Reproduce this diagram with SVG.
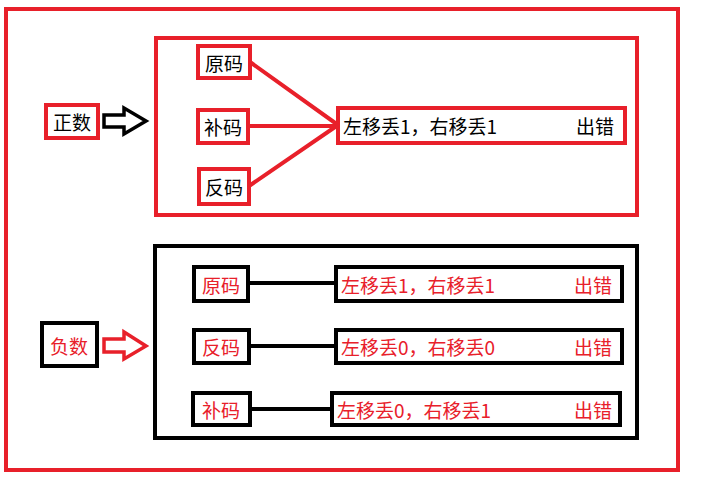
<svg xmlns="http://www.w3.org/2000/svg" width="701" height="487" viewBox="0 0 701 487">
<style>
text{font-family:"Noto Sans CJK SC","Liberation Sans",sans-serif;font-size:19px;dominant-baseline:central}
.r{fill:#fff;stroke:#e8202a;stroke-width:4}
.k{fill:#fff;stroke:#000;stroke-width:4}
.tr{fill:#e8202a}
.tk{fill:#000}
</style>
<rect width="701" height="487" fill="#fff"/>
<rect x="6" y="9" width="672" height="461" fill="none" stroke="#e8202a" stroke-width="4"/>
<g id="pos-container"><rect x="156" y="38" width="481" height="177" fill="none" stroke="#e8202a" stroke-width="4"/></g>
<g id="neg-container"><rect x="155" y="246" width="482" height="192" fill="none" stroke="#000" stroke-width="4"/></g>
<g id="connectors">
<path d="M250 62L338 125M248 126H338M249 186L338 125" stroke="#e8202a" stroke-width="4" fill="none"/>
<path d="M248 283H336M249 346H336M250 409H331" stroke="#000" stroke-width="4" fill="none"/>
<path d="M104 115H124V108L146 121L124 134V127H104Z" fill="#fff" stroke="#000" stroke-width="3.5"/>
<path d="M104 339H124V332L146 346L124 359V352H104Z" fill="#fff" stroke="#e8202a" stroke-width="3.5"/>
</g>
<g id="zhengshu"><rect class="r" x="46" y="105" width="52" height="33"/><text class="tk" x="72" y="121" text-anchor="middle">正数</text></g>
<g id="fushu"><rect class="k" x="42" y="323" width="55" height="43"/><text class="tr" x="69" y="345" text-anchor="middle">负数</text></g>
<g id="p-yuan"><rect class="r" x="198" y="46" width="52" height="32"/><text class="tk" x="224" y="62" text-anchor="middle">原码</text></g>
<g id="p-bu"><rect class="r" x="198" y="110" width="50" height="33"/><text class="tk" x="223" y="126" text-anchor="middle">补码</text></g>
<g id="p-fan"><rect class="r" x="199" y="169" width="50" height="35"/><text class="tk" x="224" y="186" text-anchor="middle">反码</text></g>
<g id="p-res"><rect class="r" x="338" y="108" width="287" height="35"/><text class="tk" x="343" y="125">左移丢1，右移丢1</text><text class="tk" x="576" y="125">出错</text></g>
<g id="n-yuan"><rect class="k" x="194" y="267" width="54" height="34"/><text class="tr" x="221" y="284" text-anchor="middle">原码</text></g>
<g id="n-fan"><rect class="k" x="194" y="330" width="55" height="33"/><text class="tr" x="221" y="346" text-anchor="middle">反码</text></g>
<g id="n-bu"><rect class="k" x="193" y="393" width="57" height="32"/><text class="tr" x="221" y="409" text-anchor="middle">补码</text></g>
<g id="n-res1"><rect class="k" x="336" y="267" width="286" height="34"/><text class="tr" x="341" y="284">左移丢1，右移丢1</text><text class="tr" x="574" y="284">出错</text></g>
<g id="n-res2"><rect class="k" x="336" y="330" width="286" height="33"/><text class="tr" x="341" y="346">左移丢0，右移丢0</text><text class="tr" x="574" y="346">出错</text></g>
<g id="n-res3"><rect class="k" x="332" y="393" width="288" height="32"/><text class="tr" x="337" y="409">左移丢0，右移丢1</text><text class="tr" x="574" y="409">出错</text></g>
</svg>
